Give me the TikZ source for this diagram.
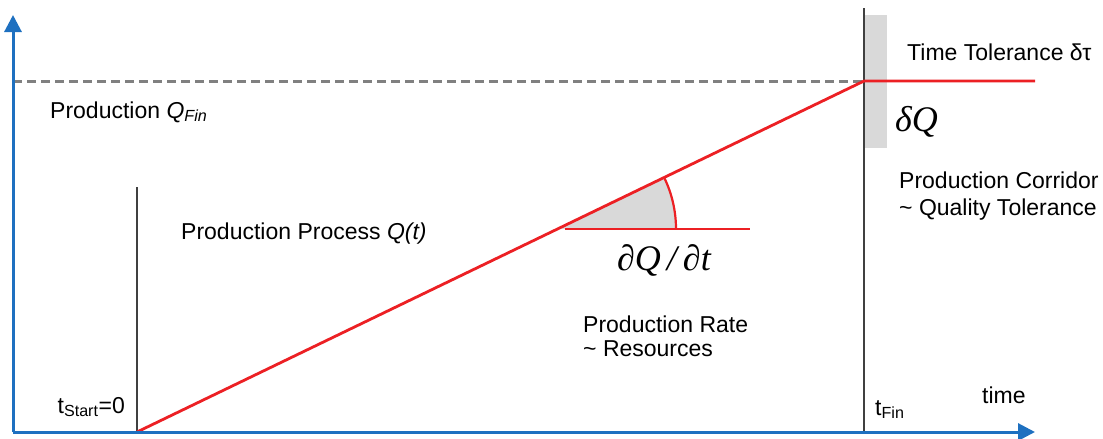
\documentclass[tikz,border=0pt]{standalone}
\usepackage{fontspec}
\setmainfont{Liberation Sans}
\newfontfamily\mathserif{Liberation Serif}
\usetikzlibrary{arrows.meta}
\definecolor{axisblue}{RGB}{30,112,192}
\definecolor{prodred}{RGB}{236,32,36}
\definecolor{dashgray}{RGB}{128,128,128}
\definecolor{tolgray}{RGB}{217,217,217}
\begin{document}
\begin{tikzpicture}[x=1pt,y=-1pt,
  axis/.style={draw=axisblue,line width=3pt,-{Triangle[length=17pt,width=17pt]}},
  redline/.style={draw=prodred,line width=2.8pt},
  thinline/.style={draw=black!75,line width=1.3pt},
  lbl/.style={font=\fontsize{23}{28}\selectfont,inner sep=0pt,anchor=base west},
  bigmath/.style={font=\fontsize{36}{40}\selectfont\mathserif\itshape,inner sep=0pt,anchor=base west}]
\useasboundingbox (0,0) rectangle (1103,439);
% coordinates
\coordinate (O) at (13,432);
\coordinate (Ytop) at (13,15);
\coordinate (Xend) at (1035,432);
\coordinate (S) at (137,432);
\coordinate (Stop) at (137,187);
\coordinate (F) at (864,81);
\coordinate (Fbot) at (864,432);
\coordinate (Ftop) at (864,8);
\coordinate (Yq) at (13,81);
\coordinate (Rend) at (1035,81);
\coordinate (A) at (558,229);
\coordinate (Hend) at (750,229);
% tolerance band
\fill[tolgray] (865,15) rectangle (887,148);
% angle wedge
\fill[tolgray] (A) -- ++(0:118pt) arc[start angle=0,end angle=25.7,radius=118pt] -- cycle;
\draw[draw=prodred,line width=2.2pt] (A) ++(0:118pt) arc[start angle=0,end angle=25.7,radius=118pt];
% dashed target line
\draw[dashgray,line width=3pt,dash pattern=on 9pt off 5pt] (Yq) -- (F);
% vertical markers
\draw[thinline] (Stop) -- (S);
\draw[thinline] (Ftop) -- (Fbot);
% production lines
\draw[redline] (S) -- (F) -- (Rend);
\draw[redline] (A) ++(7,0) -- (Hend);
% axes
\draw[axis] (O) -- (Ytop);
\draw[axis] (O) -- (Xend);
% labels
\node[lbl] (qfin) at (50,118) {Production \textit{Q}\textsubscript{\textit{Fin}}};
\node[lbl] (tt) at (907,60) {Time Tolerance δτ};
\node[bigmath] (dq) at (895,131) {δQ};
\node[lbl] (pc1) at (899,188) {Production Corridor};
\node[lbl] (pc2) at (899,215) {\textasciitilde{} Quality Tolerance};
\node[lbl] (pp) at (181,239) {Production Process \textit{Q(t)}};
\node[bigmath] (rate) at (617,270) {∂Q\,/\,∂t};
\node[lbl] (pr1) at (583,332) {Production Rate};
\node[lbl] (pr2) at (583,356) {\textasciitilde{} Resources};
\node[lbl,anchor=base east] (ts) at (125,413) {t\textsubscript{Start}=0};
\node[lbl] (tf) at (875,415) {t\textsubscript{Fin}};
\node[lbl] (time) at (982,403) {time};
\end{tikzpicture}
\end{document}
